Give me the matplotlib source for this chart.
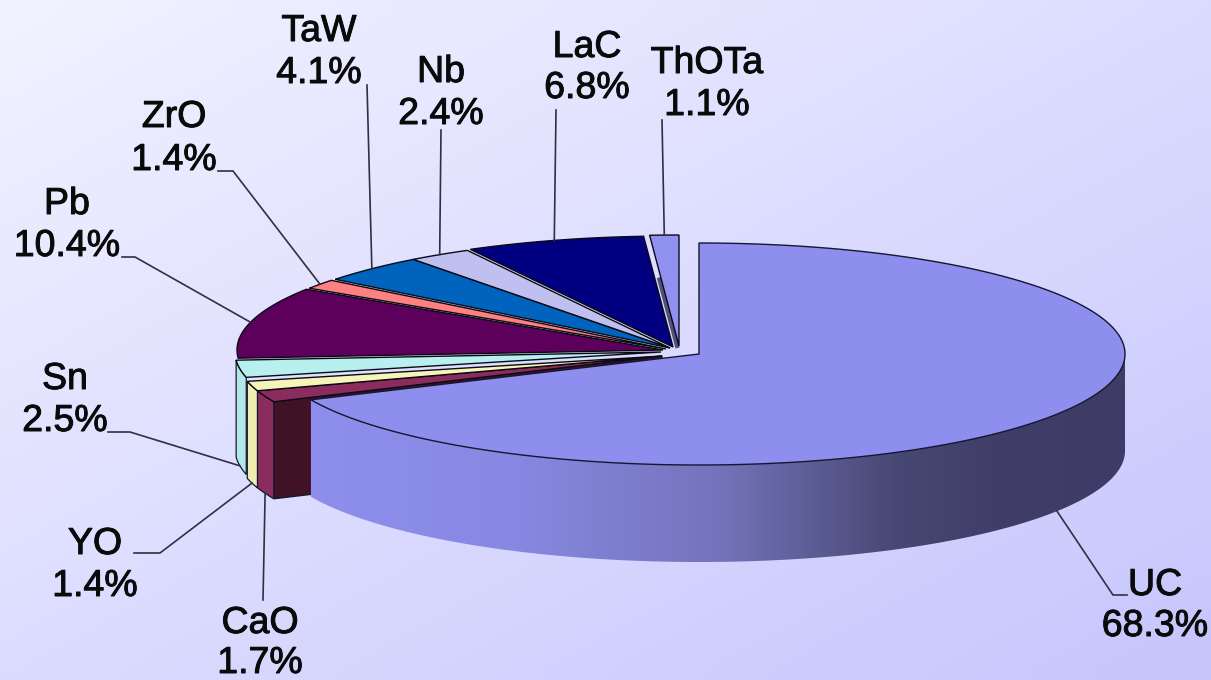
# Exploded 3D-look pie of target materials, drawn in pixel coordinates on a flat axes.
import numpy as np
import matplotlib
matplotlib.use("Agg")
import matplotlib.pyplot as plt
import matplotlib.patheffects as pe
from matplotlib.patches import Polygon
from matplotlib.colors import LinearSegmentedColormap

plt.rcParams['font.family'] = ['Liberation Sans', 'DejaVu Sans']

# clockwise from 12 o'clock
materials = ["UC", "CaO", "YO", "Sn", "Pb", "ZrO", "TaW", "Nb", "LaC", "ThOTa"]
shares = [68.3, 1.7, 1.4, 2.5, 10.4, 1.4, 4.1, 2.4, 6.8, 1.1]

top_colors = ["#8e8eee", "#8b2c5e", "#f6f4b8", "#b8f0f0", "#5c005c",
              "#ff8080", "#0063bd", "#c0c0f0", "#000080", "#9090f0"]
side_colors = ["#8e8eee", "#8b2c5e", "#efedb0", "#b4e8e8"]

# how far each slice is pulled out of the pie, in px
shift_x = [0, -37, -37, -38, -36, -33, -29, -29, -26, -20]
shift_y = [0, 2, 2, -2, -4, -5, -6, -6, -7, -8]

CX, CY = 699, 354
RX, RY = 426, 111
DEPTH = 97
EDGE = "#161630"

# label centre x, y of first line, y of second line, elbow point, end of the elbow
label_x = [1155, 260, 95, 65, 67, 174, 319, 441, 587, 707]
label_y1 = [585, 623, 544, 379, 204, 117, 31, 72, 47, 63]
label_y2 = [626, 663, 586, 421, 246, 160, 73, 114, 88, 105]
elbow = [(1113, 595), (263, 600), (160, 553), (130, 432), (135, 257),
         (233, 171), (367, 85), (441, 130), (556, 110), (662, 120)]
elbow_end = [(1127, 595), None, (134, 553), (108, 432), (122, 257),
             (218, 171), None, None, None, None]


def rim(angles_deg, i):
  a = np.radians(angles_deg)
  return CX + shift_x[i] + RX * np.sin(a), CY + shift_y[i] - RY * np.cos(a)


def slice_angles():
  s = np.array(shares) / sum(shares) * 360
  stop = np.cumsum(s)
  return stop - s, stop


def draw_background(ax):
  w, h = 64, 36
  yy, xx = np.mgrid[0:1:h * 1j, 0:1:w * 1j]
  cmap = LinearSegmentedColormap.from_list("bg", ["#f2f2ff", "#dcdcff", "#c6c6fd"])
  ax.imshow((xx + yy) / 2, extent=(0, 1211, 680, 0), cmap=cmap, vmin=0, vmax=1,
            aspect='auto', interpolation='bilinear', zorder=0)


def draw_small_slice(ax, i, a0, a1):
  t = np.linspace(a0, a1, 40)
  x, y = rim(t, i)
  apex = (CX + shift_x[i], CY + shift_y[i])
  # outer wall, only CaO, YO and Sn face the viewer
  if i <= 3:
    wx, wy = rim(t, i)
    pts = list(zip(wx, wy)) + list(zip(wx[::-1], wy[::-1] + DEPTH))
    ax.add_patch(Polygon(pts, closed=True, fc=side_colors[i], ec=EDGE, lw=0.9, zorder=2))
  # cut face towards UC
  if i == 1:
    ox, oy = rim(np.array([a0]), i)
    pts = [apex, (ox[0], oy[0]), (ox[0], oy[0] + DEPTH), (apex[0], apex[1] + DEPTH)]
    ax.add_patch(Polygon(pts, closed=True, fc="#3f1226", ec=EDGE, lw=0.9, zorder=2))
  # dim cut face in the gap left of ThOTa
  if i == 9:
    ox, oy = rim(np.array([a0]), i)
    ax.plot([apex[0] - 2, apex[0] + (ox[0] - apex[0]) * 0.6 - 2],
            [apex[1], apex[1] + (oy[0] - apex[1]) * 0.6],
            color="#50507a", lw=3, zorder=2)
  pts = [apex] + list(zip(x, y))
  ax.add_patch(Polygon(pts, closed=True, fc=top_colors[i], ec="#0a0a14", lw=1.0, zorder=3))


def draw_main_slice(ax, a0, a1):
  # front wall with the left to right shading
  t = np.linspace(90, a1, 200)
  wx, wy = rim(t, 0)
  pts = list(zip(wx, wy)) + list(zip(wx[::-1], wy[::-1] + DEPTH))
  clip = Polygon(pts, closed=True, fc='none', ec='none', transform=ax.transData)
  ax.add_patch(clip)
  cmap = LinearSegmentedColormap.from_list(
    "wall", [(0, "#8e8eee"), (0.25, "#8888e2"), (0.5, "#7474bc"),
             (0.72, "#484874"), (0.85, "#403e68"), (1, "#3e3c66")])
  g = np.linspace(0, 1, 256).reshape(1, -1)
  im = ax.imshow(g, extent=(310, 1125, 680, 0), cmap=cmap, aspect='auto',
                 interpolation='bilinear', zorder=4)
  im.set_clip_path(clip)
  # top
  t = np.linspace(a0, a1, 300)
  x, y = rim(t, 0)
  ax.add_patch(Polygon([(CX, CY)] + list(zip(x, y)), closed=True, fc=top_colors[0],
                       ec=EDGE, lw=1.0, zorder=5))


def draw_labels(ax, starts, stops):
  stroke = [pe.withStroke(linewidth=0.7, foreground="#0a0a0a")]
  for i in range(len(materials)):
    mid = (starts[i] + stops[i]) / 2
    ax_x, ax_y = rim(np.array([mid]), i)
    ax_x, ax_y = ax_x[0], ax_y[0]
    if i <= 3:
      ax_y += DEPTH
    xs = [ax_x, elbow[i][0]]
    ys = [ax_y, elbow[i][1]]
    if elbow_end[i] is not None:
      xs.append(elbow_end[i][0])
      ys.append(elbow_end[i][1])
    ax.plot(xs, ys, color="#303040", lw=1.2, zorder=6, solid_joinstyle='miter')
    ax.text(label_x[i], label_y1[i], materials[i], ha='center', va='center',
            fontsize=27, color="#0a0a0a", zorder=7, path_effects=stroke)
    ax.text(label_x[i], label_y2[i], "{}%".format(shares[i]), ha='center', va='center',
            fontsize=27, color="#0a0a0a", zorder=7, path_effects=stroke)


def main():
  fig = plt.figure(figsize=(12.11, 6.8), dpi=100)
  ax = fig.add_axes([0, 0, 1, 1])
  draw_background(ax)

  starts, stops = slice_angles()
  for i in range(1, len(materials)):
    draw_small_slice(ax, i, starts[i], stops[i])
  draw_main_slice(ax, starts[0], stops[0])
  draw_labels(ax, starts, stops)

  ax.set_xlim(0, 1211)
  ax.set_ylim(680, 0)
  ax.axis('off')
  fig.savefig("out.png", dpi=100)
  plt.close()


if __name__ == "__main__":
  main()
